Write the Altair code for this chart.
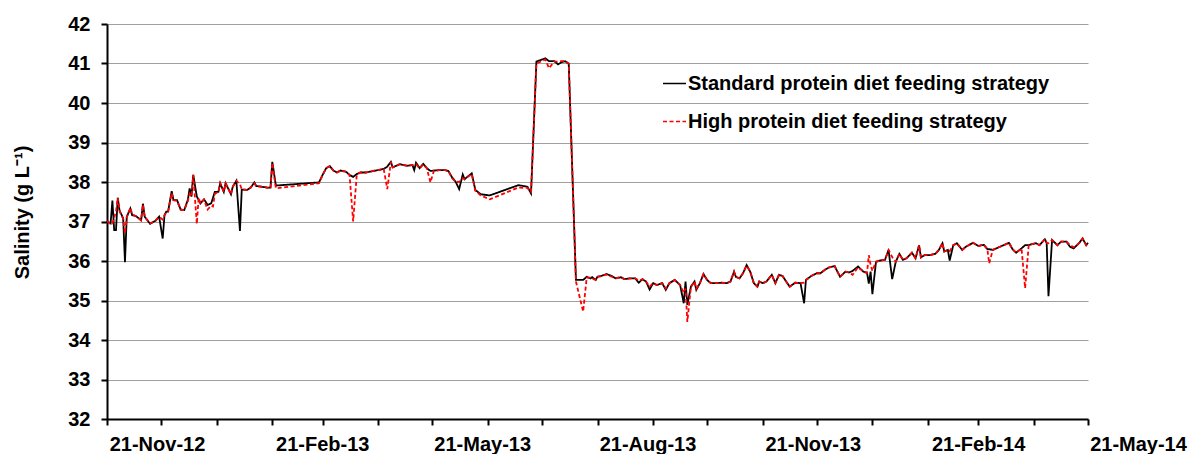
import altair as alt
import pandas as pd

STD_NAME = "Standard protein diet feeding strategy"
HIGH_NAME = "High protein diet feeding strategy"

DATES = [
    "2012-11-21", "2012-11-23", "2012-11-24", "2012-11-25", "2012-11-26", "2012-11-27", "2012-11-28", "2012-11-29", "2012-11-30", "2012-12-01",
    "2012-12-02", "2012-12-04", "2012-12-05", "2012-12-07", "2012-12-10", "2012-12-11", "2012-12-12", "2012-12-15", "2012-12-18", "2012-12-20",
    "2012-12-22", "2012-12-23", "2012-12-24", "2012-12-25", "2012-12-27", "2012-12-28", "2012-12-30", "2013-01-01", "2013-01-03", "2013-01-05",
    "2013-01-06", "2013-01-07", "2013-01-08", "2013-01-10", "2013-01-11", "2013-01-12", "2013-01-14", "2013-01-16", "2013-01-18", "2013-01-19",
    "2013-01-20", "2013-01-22", "2013-01-23", "2013-01-25", "2013-01-26", "2013-01-29", "2013-01-30", "2013-02-01", "2013-02-03", "2013-02-04",
    "2013-02-07", "2013-02-09", "2013-02-11", "2013-02-12", "2013-02-15", "2013-02-18", "2013-02-20", "2013-02-21", "2013-02-23", "2013-03-19",
    "2013-03-21", "2013-03-23", "2013-03-25", "2013-03-27", "2013-03-29", "2013-03-31", "2013-04-03", "2013-04-05", "2013-04-07", "2013-04-09",
    "2013-04-11", "2013-04-14", "2013-04-24", "2013-04-26", "2013-04-28", "2013-04-29", "2013-05-03", "2013-05-07", "2013-05-10", "2013-05-11",
    "2013-05-12", "2013-05-14", "2013-05-16", "2013-05-18", "2013-05-20", "2013-05-22", "2013-05-25", "2013-05-28", "2013-05-30", "2013-06-01",
    "2013-06-03", "2013-06-05", "2013-06-07", "2013-06-08", "2013-06-12", "2013-06-14", "2013-06-17", "2013-06-22", "2013-07-08", "2013-07-13",
    "2013-07-15", "2013-07-18", "2013-07-23", "2013-07-25", "2013-07-28", "2013-07-30", "2013-08-01", "2013-08-03", "2013-08-05", "2013-08-09",
    "2013-08-13", "2013-08-15", "2013-08-17", "2013-08-18", "2013-08-20", "2013-08-21", "2013-08-23", "2013-08-26", "2013-08-29", "2013-08-31",
    "2013-09-03", "2013-09-05", "2013-09-08", "2013-09-11", "2013-09-13", "2013-09-15", "2013-09-17", "2013-09-19", "2013-09-21", "2013-09-23",
    "2013-09-26", "2013-09-28", "2013-09-30", "2013-10-03", "2013-10-06", "2013-10-08", "2013-10-09", "2013-10-10", "2013-10-12", "2013-10-14",
    "2013-10-15", "2013-10-17", "2013-10-19", "2013-10-21", "2013-10-23", "2013-10-26", "2013-10-29", "2013-11-01", "2013-11-03", "2013-11-05",
    "2013-11-06", "2013-11-08", "2013-11-10", "2013-11-12", "2013-11-14", "2013-11-16", "2013-11-18", "2013-11-19", "2013-11-21", "2013-11-23",
    "2013-11-26", "2013-11-28", "2013-11-30", "2013-12-02", "2013-12-04", "2013-12-06", "2013-12-09", "2013-12-12", "2013-12-14", "2013-12-15",
    "2013-12-18", "2013-12-21", "2013-12-23", "2013-12-26", "2013-12-28", "2013-12-31", "2014-01-03", "2014-01-06", "2014-01-08", "2014-01-10",
    "2014-01-13", "2014-01-16", "2014-01-18", "2014-01-19", "2014-01-20", "2014-01-21", "2014-01-23", "2014-01-25", "2014-01-28", "2014-01-30",
    "2014-02-01", "2014-02-03", "2014-02-05", "2014-02-07", "2014-02-09", "2014-02-12", "2014-02-14", "2014-02-16", "2014-02-17", "2014-02-19",
    "2014-02-22", "2014-02-25", "2014-02-27", "2014-03-01", "2014-03-02", "2014-03-04", "2014-03-05", "2014-03-07", "2014-03-09", "2014-03-12",
    "2014-03-14", "2014-03-18", "2014-03-21", "2014-03-24", "2014-03-26", "2014-03-27", "2014-03-29", "2014-04-02", "2014-04-07", "2014-04-09",
    "2014-04-11", "2014-04-14", "2014-04-16", "2014-04-18", "2014-04-20", "2014-04-22", "2014-04-24", "2014-04-27", "2014-04-28", "2014-04-29",
    "2014-05-01", "2014-05-04", "2014-05-06", "2014-05-09", "2014-05-11", "2014-05-13", "2014-05-16", "2014-05-18", "2014-05-20", "2014-05-21",
]

STANDARD = [
    37.01, 36.95, 37.53, 36.78, 36.78, 37.60, 37.27, 37.18, 37.08, 35.97,
    37.12, 37.33, 37.16, 37.14, 37.03, 37.45, 37.12, 36.94, 37.02, 37.12,
    36.57, 37.16, 37.25, 37.25, 37.77, 37.54, 37.54, 37.30, 37.29, 37.55,
    37.84, 37.63, 38.18, 37.63, 37.55, 37.46, 37.56, 37.42, 37.46, 37.60,
    37.75, 37.75, 37.97, 37.75, 37.97, 37.69, 37.88, 38.03, 36.76, 37.81,
    37.80, 37.86, 37.99, 37.90, 37.88, 37.86, 37.86, 38.51, 37.91, 37.99,
    38.18, 38.35, 38.40, 38.29, 38.24, 38.29, 38.26, 38.18, 38.13, 38.20,
    38.24, 38.24, 38.33, 38.39, 38.51, 38.37, 38.45, 38.41, 38.43, 38.30,
    38.49, 38.35, 38.46, 38.35, 38.28, 38.29, 38.30, 38.30, 38.28, 38.12,
    38.01, 37.82, 38.19, 38.07, 38.22, 37.80, 37.69, 37.66, 37.92, 37.88,
    37.71, 41.05, 41.13, 41.06, 41.06, 40.98, 41.03, 41.06, 40.99, 35.52,
    35.52, 35.60, 35.56, 35.59, 35.52, 35.60, 35.62, 35.67, 35.62, 35.56,
    35.59, 35.54, 35.56, 35.56, 35.45, 35.54, 35.48, 35.28, 35.44, 35.39,
    35.44, 35.27, 35.44, 35.52, 35.39, 34.93, 35.48, 34.89, 35.35, 35.48,
    35.27, 35.44, 35.67, 35.52, 35.44, 35.44, 35.45, 35.44, 35.48, 35.73,
    35.60, 35.56, 35.69, 35.90, 35.73, 35.44, 35.35, 35.48, 35.44, 35.48,
    35.65, 35.44, 35.65, 35.62, 35.48, 35.35, 35.45, 35.44, 34.93, 35.52,
    35.62, 35.69, 35.69, 35.79, 35.84, 35.87, 35.60, 35.73, 35.71, 35.75,
    35.86, 35.73, 35.70, 35.43, 35.73, 35.16, 35.98, 36.01, 36.03, 36.28,
    35.54, 35.98, 36.18, 36.03, 36.07, 36.21, 36.07, 36.40, 36.09, 36.15,
    36.15, 36.18, 36.28, 36.45, 36.24, 36.28, 36.01, 36.40, 36.45, 36.28,
    36.36, 36.46, 36.38, 36.41, 36.30, 36.30, 36.28, 36.36, 36.46, 36.30,
    36.21, 36.32, 36.40, 36.40, 36.43, 36.45, 36.40, 36.55, 36.46, 35.11,
    36.53, 36.40, 36.49, 36.49, 36.36, 36.32, 36.45, 36.57, 36.40, 36.46,
]

HIGH = [
    37.01, 36.93, 36.95, 37.10, 37.25, 37.60, 37.27, 37.15, 37.08, 36.70,
    37.10, 37.35, 37.18, 37.14, 37.03, 37.42, 37.12, 36.95, 37.02, 37.12,
    37.05, 37.16, 37.22, 37.25, 37.72, 37.54, 37.52, 37.30, 37.29, 37.52,
    37.70, 37.63, 38.18, 36.94, 37.60, 37.46, 37.56, 37.30, 37.40, 37.38,
    37.70, 37.75, 37.97, 37.75, 37.97, 37.69, 37.88, 38.03, 37.95, 37.81,
    37.80, 37.86, 37.97, 37.90, 37.88, 37.86, 37.84, 38.48, 37.84, 37.97,
    38.18, 38.35, 38.40, 38.29, 38.24, 38.29, 38.26, 38.18, 37.00, 38.18,
    38.24, 38.24, 38.33, 37.82, 38.51, 38.37, 38.45, 38.41, 38.43, 38.43,
    38.45, 38.35, 38.44, 38.35, 37.99, 38.29, 38.30, 38.30, 38.28, 38.10,
    38.01, 38.00, 38.10, 38.07, 38.20, 37.78, 37.66, 37.56, 37.86, 37.85,
    37.75, 41.00, 41.10, 40.88, 41.05, 41.05, 41.06, 41.06, 41.00, 35.48,
    34.72, 35.58, 35.58, 35.55, 35.52, 35.60, 35.62, 35.66, 35.60, 35.56,
    35.59, 35.54, 35.56, 35.56, 35.50, 35.54, 35.48, 35.35, 35.44, 35.39,
    35.44, 35.30, 35.44, 35.52, 35.39, 35.20, 35.30, 34.46, 35.35, 35.48,
    35.30, 35.44, 35.67, 35.52, 35.44, 35.44, 35.45, 35.44, 35.48, 35.73,
    35.60, 35.56, 35.69, 35.88, 35.73, 35.44, 35.35, 35.48, 35.44, 35.48,
    35.65, 35.44, 35.65, 35.62, 35.48, 35.35, 35.45, 35.44, 35.45, 35.52,
    35.62, 35.69, 35.69, 35.79, 35.84, 35.87, 35.60, 35.73, 35.71, 35.65,
    35.84, 35.73, 35.70, 36.15, 35.90, 35.75, 35.98, 36.01, 36.03, 36.28,
    36.10, 35.98, 36.18, 36.03, 36.07, 36.21, 36.07, 36.40, 36.09, 36.15,
    36.15, 36.18, 36.28, 36.45, 36.24, 36.28, 36.25, 36.40, 36.45, 36.28,
    36.36, 36.46, 36.38, 36.41, 36.30, 35.94, 36.28, 36.36, 36.46, 36.30,
    36.21, 36.32, 35.31, 36.40, 36.43, 36.45, 36.40, 36.55, 36.46, 36.45,
    36.53, 36.40, 36.49, 36.49, 36.40, 36.35, 36.45, 36.57, 36.40, 36.46,
]

TICK_DATES = [
    "2012-11-21", "2012-12-21", "2013-01-21", "2013-02-21", "2013-03-21", "2013-04-21", "2013-05-21",
    "2013-06-21", "2013-07-21", "2013-08-21", "2013-09-21", "2013-10-21", "2013-11-21", "2013-12-21",
    "2014-01-21", "2014-02-21", "2014-03-21", "2014-04-21", "2014-05-21",
]
Y_TICKS = [32, 33, 34, 35, 36, 37, 38, 39, 40, 41, 42]

FONT = "Liberation Sans"


def ms(s):
    return int(pd.Timestamp(s, tz="UTC").timestamp() * 1000)


n = len(DATES)
df = pd.DataFrame({
    "date": DATES + DATES,
    "salinity": STANDARD + HIGH,
    "series": [STD_NAME] * n + [HIGH_NAME] * n,
})

legend = alt.Legend(
    title=None, orient="none", legendX=555, legendY=47,
    symbolType="stroke", symbolSize=529, symbolStrokeWidth=1.6,
    labelFont=FONT, labelFontSize=20, labelFontWeight="bold", labelColor="black",
    labelLimit=800, labelOffset=1, rowPadding=15, padding=0,
)

base = alt.Chart(df).mark_line(strokeWidth=1.8).encode(
    x=alt.X(
        "date:T",
        scale=alt.Scale(type="utc", domain=[ms(TICK_DATES[0]), ms(TICK_DATES[-1])]),
        axis=alt.Axis(
            title=None, grid=False,
            values=[ms(t) for t in TICK_DATES],
            labelExpr="utcmonth(datum.value) % 3 == 1 ? utcFormat(datum.value, '%d-%b-%y') : ''",
            labelOffset=50, labelOverlap=False, labelFlush=False,
            labelPadding=9, tickSize=6,
        ),
    ),
    y=alt.Y(
        "salinity:Q",
        scale=alt.Scale(domain=[32, 42], nice=False, zero=False),
        axis=alt.Axis(
            title="Salinity (g L⁻¹)", values=Y_TICKS, format="d",
            grid=True, tickSize=6, labelPadding=11,
            titleX=-75, titleY=188, titleAngle=-90,
            titleFont=FONT, titleFontSize=20, titleFontWeight="bold", titleColor="black",
        ),
    ),
    color=alt.Color(
        "series:N",
        scale=alt.Scale(domain=[STD_NAME, HIGH_NAME], range=["#000000", "#ff0000"]),
        legend=legend,
    ),
    strokeDash=alt.StrokeDash(
        "series:N",
        scale=alt.Scale(domain=[STD_NAME, HIGH_NAME], range=[[1, 0], [4, 2.5]]),
        legend=legend,
    ),
)

chart = alt.layer(
    base.transform_filter(alt.datum.series == STD_NAME),
    base.transform_filter(alt.datum.series == HIGH_NAME),
).properties(
    width=981, height=395,
    autosize=alt.AutoSizeParams(type="none"),
    padding={"left": 99, "top": 16, "right": 103, "bottom": 35},
    background="white",
).configure_view(
    stroke=None
).configure_axis(
    labelFont=FONT, labelFontSize=20, labelFontWeight="bold", labelColor="black",
    domainColor="black", domainWidth=2, tickColor="black", tickWidth=2,
    gridColor="#a0a0a0", gridWidth=1.2,
)

chart.save("out.html", embed_options={"renderer": "svg", "actions": False})
